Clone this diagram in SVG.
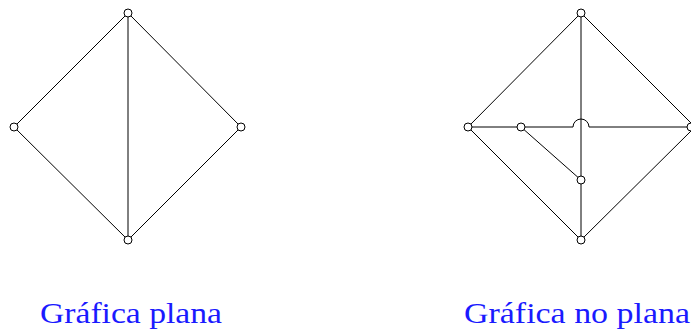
<svg xmlns="http://www.w3.org/2000/svg" width="691" height="331" viewBox="0 0 691 331">
<style>
.e{stroke:#000;stroke-width:1;fill:none}
.n{fill:#fff;stroke:#000;stroke-width:1}
.t{font-family:"Liberation Serif",serif;font-size:30px;fill:#1a1aff;text-anchor:middle}
</style>
<rect width="691" height="331" fill="#fff"/>
<g id="connectors">
<line class="e" x1="128" y1="13" x2="14" y2="127"/>
<line class="e" x1="128" y1="13" x2="241" y2="127"/>
<line class="e" x1="14" y1="127" x2="128" y2="240"/>
<line class="e" x1="241" y1="127" x2="128" y2="240"/>
<line class="e" x1="128" y1="13" x2="128" y2="240"/>
<line class="e" x1="581" y1="13" x2="468" y2="127"/>
<line class="e" x1="581" y1="13" x2="691" y2="123"/>
<line class="e" x1="468" y1="127" x2="581" y2="240"/>
<line class="e" x1="691" y1="131" x2="581" y2="240"/>
<line class="e" x1="581" y1="13" x2="581" y2="240"/>
<path class="e" d="M468 127 H573 A8 8 0 0 1 589 127 H691"/>
<line class="e" x1="521" y1="127" x2="581" y2="180"/>
</g>
<g id="n1"><circle class="n" cx="128" cy="13" r="4"/></g>
<g id="n2"><circle class="n" cx="14" cy="127" r="4"/></g>
<g id="n3"><circle class="n" cx="241" cy="127" r="4"/></g>
<g id="n4"><circle class="n" cx="128" cy="240" r="4"/></g>
<g id="m1"><circle class="n" cx="581" cy="13" r="4"/></g>
<g id="m2"><circle class="n" cx="468" cy="127" r="4"/></g>
<g id="m3"><circle class="n" cx="691" cy="127" r="4"/></g>
<g id="m4"><circle class="n" cx="581" cy="240" r="4"/></g>
<g id="m5"><circle class="n" cx="521" cy="127" r="4"/></g>
<g id="m6"><circle class="n" cx="581" cy="180" r="4"/></g>
<g id="labels">
<text class="t" x="131" y="323" textLength="182" lengthAdjust="spacingAndGlyphs">Gráfica plana</text>
<text class="t" x="577" y="323" textLength="226" lengthAdjust="spacingAndGlyphs">Gráfica no plana</text>
</g>
</svg>
